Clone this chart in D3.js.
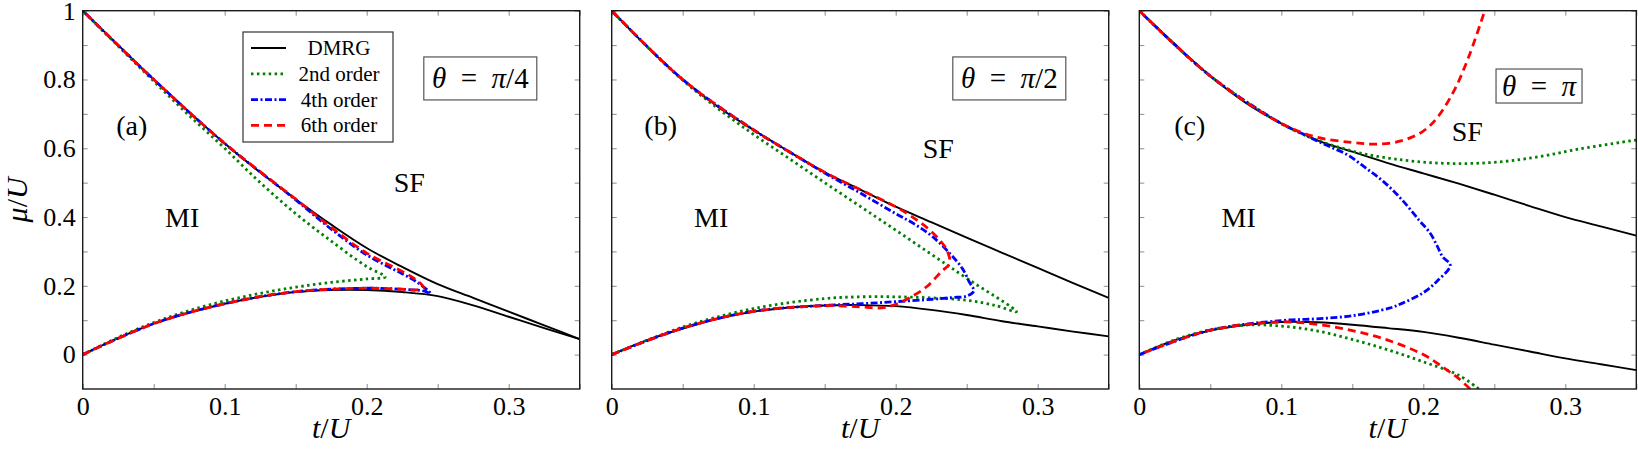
<!DOCTYPE html>
<html>
<head>
<meta charset="utf-8">
<script src="https://cdn.jsdelivr.net/npm/d3@7"></script>
<style>
body { margin: 0; background: #fff; }
svg { display: block; font-family: "Liberation Serif", "Times New Roman", serif; }
</style>
</head>
<body>
<svg id="chart" width="1638" height="450"></svg>
<script>
// t/U grid of the DMRG boundaries
const tGrid = [0, 0.025, 0.05, 0.075, 0.1, 0.125, 0.15, 0.175, 0.2, 0.225, 0.25, 0.275, 0.3, 0.325, 0.35];

// DMRG upper / lower Mott boundaries, one pair per panel
const dmrgUpA = [1, 0.90, 0.80, 0.705, 0.614, 0.53, 0.452, 0.378, 0.31, 0.255, 0.205, 0.165, 0.125, 0.085, 0.045];
const dmrgLoA = [0, 0.048, 0.09, 0.122, 0.148, 0.168, 0.182, 0.188, 0.188, 0.182, 0.17, 0.143, 0.11, 0.077, 0.045];
const dmrgUpB = [1, 0.895, 0.80, 0.72, 0.653, 0.59, 0.53, 0.48, 0.43, 0.385, 0.34, 0.296, 0.252, 0.208, 0.165];
const dmrgLoB = [0, 0.042, 0.076, 0.105, 0.125, 0.137, 0.143, 0.144, 0.141, 0.13, 0.115, 0.097, 0.082, 0.067, 0.053];
const dmrgUpC = [1, 0.903, 0.81, 0.732, 0.672, 0.624, 0.59, 0.557, 0.527, 0.497, 0.465, 0.432, 0.40, 0.373, 0.346];
const dmrgLoC = [0, 0.042, 0.07, 0.086, 0.095, 0.094, 0.087, 0.077, 0.066, 0.049, 0.029, 0.009, -0.011, -0.028, -0.045];

// strong coupling expansion, [t/U, mu/U] going along the lobe
const ord2A = [[0, 0], [0.025, 0.05], [0.05, 0.093], [0.075, 0.128], [0.1, 0.156], [0.125, 0.178], [0.15, 0.196], [0.175, 0.21], [0.2, 0.22], [0.213, 0.226],
  [0.2, 0.256], [0.175, 0.33], [0.15, 0.41], [0.125, 0.5], [0.1, 0.6], [0.075, 0.695], [0.05, 0.795], [0.025, 0.897], [0, 1]];
const ord4A = [[0, 0], [0.05, 0.09], [0.1, 0.148], [0.15, 0.183], [0.2, 0.193], [0.225, 0.19], [0.24, 0.185], [0.245, 0.178],
  [0.235, 0.212], [0.225, 0.235], [0.2, 0.29], [0.175, 0.365], [0.15, 0.45], [0.1, 0.614], [0.05, 0.80], [0, 1]];
const ord6A = [[0, 0], [0.05, 0.09], [0.1, 0.148], [0.15, 0.183], [0.2, 0.193], [0.225, 0.19], [0.235, 0.188], [0.24, 0.195],
  [0.235, 0.217], [0.225, 0.242], [0.2, 0.295], [0.175, 0.37], [0.15, 0.452], [0.1, 0.614], [0.05, 0.80], [0, 1]];

const ord2B = [[0, 0], [0.05, 0.08], [0.1, 0.134], [0.15, 0.163], [0.175, 0.168], [0.2, 0.168], [0.225, 0.165], [0.25, 0.158], [0.27, 0.143], [0.285, 0.125],
  [0.25, 0.222], [0.225, 0.292], [0.2, 0.362], [0.175, 0.431], [0.15, 0.5], [0.125, 0.57], [0.1, 0.64], [0.075, 0.715], [0.05, 0.798], [0.025, 0.895], [0, 1]];
const ord4B = [[0, 0], [0.05, 0.077], [0.1, 0.126], [0.15, 0.143], [0.176, 0.148], [0.2, 0.154], [0.226, 0.161], [0.24, 0.166], [0.25, 0.17], [0.255, 0.185],
  [0.252, 0.21], [0.247, 0.25], [0.239, 0.29], [0.226, 0.343], [0.213, 0.38], [0.2, 0.41], [0.175, 0.47], [0.15, 0.528], [0.125, 0.59], [0.1, 0.653], [0.05, 0.80], [0, 1]];
const ord6B = [[0, 0], [0.05, 0.077], [0.1, 0.126], [0.15, 0.142], [0.175, 0.139], [0.19, 0.136], [0.2, 0.146], [0.211, 0.168], [0.222, 0.198], [0.232, 0.241],
  [0.238, 0.266], [0.236, 0.304], [0.231, 0.333], [0.224, 0.362], [0.215, 0.391], [0.2, 0.43], [0.175, 0.48], [0.15, 0.53], [0.125, 0.59], [0.1, 0.653], [0.05, 0.80], [0, 1]];

const ord2C = [[0.239, -0.1], [0.225, -0.06], [0.2, -0.021], [0.175, 0.014], [0.15, 0.044], [0.125, 0.069], [0.1, 0.083], [0.075, 0.086], [0.05, 0.072], [0.025, 0.043], [0, 0],
  null,
  [0, 1], [0.05, 0.81], [0.1, 0.672], [0.125, 0.624], [0.15, 0.592], [0.16, 0.582], [0.185, 0.566], [0.21, 0.557], [0.235, 0.556], [0.26, 0.563], [0.285, 0.578], [0.31, 0.598], [0.35, 0.624]];
const ord4C = [[0, 0], [0.05, 0.071], [0.1, 0.099], [0.125, 0.104], [0.15, 0.113], [0.176, 0.135], [0.185, 0.149], [0.2, 0.18], [0.21, 0.215], [0.219, 0.26],
  [0.2135, 0.285], [0.21, 0.314], [0.205, 0.352], [0.197, 0.391], [0.185, 0.45], [0.172, 0.503], [0.16, 0.541], [0.147, 0.58], [0.134, 0.605], [0.125, 0.622], [0.115, 0.642], [0.1, 0.672], [0.05, 0.81], [0, 1]];
const ord6C = [[0.233, -0.1], [0.225, -0.07], [0.215, -0.04], [0.2, 0], [0.175, 0.042], [0.15, 0.07], [0.125, 0.088], [0.1, 0.095], [0.05, 0.071], [0, 0],
  null,
  [0, 1], [0.05, 0.81], [0.1, 0.672], [0.125, 0.632], [0.15, 0.617], [0.167, 0.612], [0.185, 0.622], [0.2, 0.65], [0.21, 0.69], [0.222, 0.77], [0.232, 0.866], [0.2425, 0.99], [0.245, 1.02]];

const xTicks = [0, 0.05, 0.1, 0.15, 0.2, 0.25, 0.3, 0.35];
const yTicks = [0, 0.1, 0.2, 0.3, 0.4, 0.5, 0.6, 0.7, 0.8, 0.9, 1];
const legendNames = ["DMRG", "2nd order", "4th order", "6th order"];

const panels = [
  { tag: "(a)", theta: "π/4", left: 82.7, up: dmrgUpA, lo: dmrgLoA, o2: ord2A, o4: ord4A, o6: ord6A,
    tagAt: [0.0345, 0.668], miAt: [0.07, 0.4], sfAt: [0.23, 0.5], boxAt: [0.28, 0.803], box: [113, 43] },
  { tag: "(b)", theta: "π/2", left: 611.7, up: dmrgUpB, lo: dmrgLoB, o2: ord2B, o4: ord4B, o6: ord6B,
    tagAt: [0.0345, 0.668], miAt: [0.07, 0.4], sfAt: [0.23, 0.6], boxAt: [0.28, 0.803], box: [113, 43] },
  { tag: "(c)", theta: "π", left: 1139.3, up: dmrgUpC, lo: dmrgLoC, o2: ord2C, o4: ord4C, o6: ord6C,
    tagAt: [0.0355, 0.668], miAt: [0.07, 0.4], sfAt: [0.231, 0.65], boxAt: [0.2815, 0.781], box: [86, 34] }
];

const styles = [
  { color: "#000", width: 1.9, dash: null },
  { color: "#007f00", width: 2.8, dash: "2.5,3.4" },
  { color: "#0000ff", width: 2.8, dash: "7,2.5,2,2.5" },
  { color: "#ff0000", width: 2.8, dash: "8,5" }
];

const W = 497, H = 378.3, TOP = 10.7;
const SERIF = '"Liberation Serif", "Times New Roman", serif';
const svg = d3.select("#chart");

const fmt = d => String(+d.toFixed(2));

panels.forEach((p, i) => {
  const x = d3.scaleLinear().domain([0, 0.35]).range([0, W]);
  const y = d3.scaleLinear().domain([-0.1, 1]).range([H, 0]);
  const g = svg.append("g").attr("transform", `translate(${p.left},${TOP})`);

  g.append("clipPath").attr("id", "clip" + i)
    .append("rect").attr("width", W).attr("height", H);

  // axes, ticks pointing inwards on all four sides
  const xb = g.append("g").attr("transform", `translate(0,${H})`)
    .call(d3.axisBottom(x).tickValues(xTicks).tickSize(-5).tickPadding(8)
      .tickFormat(d => Math.abs(d * 10 - Math.round(d * 10)) < 1e-6 ? fmt(d) : ""));
  const xt = g.append("g")
    .call(d3.axisTop(x).tickValues(xTicks).tickSize(-5).tickFormat(""));
  const yl = g.append("g")
    .call(d3.axisLeft(y).tickValues(yTicks).tickSize(-5).tickPadding(7)
      .tickFormat(d => (i === 0 && Math.round(d * 10) % 2 === 0) ? fmt(d) : ""));
  const yr = g.append("g").attr("transform", `translate(${W},0)`)
    .call(d3.axisRight(y).tickValues(yTicks).tickSize(-5).tickFormat(""));
  [xb, xt, yl, yr].forEach(a => {
    a.attr("font-family", SERIF).attr("font-size", 26);
    a.select(".domain").remove();
    a.selectAll(".tick line").attr("stroke", "#8c8c8c").attr("stroke-width", 1);
    a.selectAll("text").attr("fill", "#000");
  });

  // curves
  const line = d3.line().defined(d => d).x(d => x(d[0])).y(d => y(d[1])).curve(d3.curveCatmullRom);
  const curves = g.append("g").attr("clip-path", `url(#clip${i})`);
  const dmrgUp = tGrid.map((t, k) => [t, p.up[k]]);
  const dmrgLo = tGrid.map((t, k) => [t, p.lo[k]]);
  [[dmrgUp, 0], [dmrgLo, 0], [p.o2, 1], [p.o4, 2], [p.o6, 3]].forEach(([data, s]) => {
    curves.append("path").datum(data)
      .attr("d", line)
      .attr("fill", "none")
      .attr("stroke", styles[s].color)
      .attr("stroke-width", styles[s].width)
      .attr("stroke-dasharray", styles[s].dash)
      .attr("stroke-linejoin", "round");
  });

  g.append("rect").attr("width", W).attr("height", H)
    .attr("fill", "none").attr("stroke", "#1a1a1a").attr("stroke-width", 1.4);

  // annotations
  const big = (txt, at) => g.append("text").attr("x", x(at[0])).attr("y", y(at[1]))
    .attr("text-anchor", "middle").attr("dy", "0.35em").attr("font-size", 28).text(txt);
  big(p.tag, p.tagAt);
  big("MI", p.miAt);
  big("SF", p.sfAt);

  const bx = x(p.boxAt[0]), by = y(p.boxAt[1]);
  g.append("rect").attr("x", bx - p.box[0] / 2).attr("y", by - p.box[1] / 2)
    .attr("width", p.box[0]).attr("height", p.box[1])
    .attr("fill", "#fff").attr("stroke", "#555").attr("stroke-width", 1.2);
  const th = g.append("text").attr("x", bx).attr("y", by + 10)
    .attr("text-anchor", "middle").attr("font-size", 29);
  th.append("tspan").attr("font-style", "italic").text("θ");
  th.append("tspan").text("\u2002=\u2002");
  th.append("tspan").attr("font-style", "italic").text(p.theta.slice(0, 1));
  th.append("tspan").text(p.theta.slice(1));

  // x label
  const xl = g.append("text").attr("x", W / 2).attr("y", 438 - TOP)
    .attr("text-anchor", "middle").attr("font-size", 30);
  xl.append("tspan").attr("font-style", "italic").text("t");
  xl.append("tspan").text("/");
  xl.append("tspan").attr("font-style", "italic").text("U");

  if (i === 0) {
    const yt = svg.append("text").attr("transform", `translate(27,${TOP + H / 2}) rotate(-90)`)
      .attr("text-anchor", "middle").attr("font-size", 30);
    yt.append("tspan").attr("font-style", "italic").text("μ");
    yt.append("tspan").text("/");
    yt.append("tspan").attr("font-style", "italic").text("U");

    // legend
    const lg = g.append("g").attr("transform", `translate(${243 - p.left},${32 - TOP})`);
    lg.append("rect").attr("width", 150).attr("height", 110)
      .attr("fill", "#fff").attr("stroke", "#333").attr("stroke-width", 1.2);
    legendNames.forEach((name, k) => {
      const ry = 16 + k * 25.8;
      lg.append("line").attr("x1", 8).attr("x2", 43).attr("y1", ry).attr("y2", ry)
        .attr("stroke", styles[k].color).attr("stroke-width", styles[k].width)
        .attr("stroke-dasharray", styles[k].dash);
      lg.append("text").attr("x", 96).attr("y", ry).attr("dy", "0.33em")
        .attr("text-anchor", "middle").attr("font-size", 21).text(name);
    });
  }
});
</script>
</body>
</html>
